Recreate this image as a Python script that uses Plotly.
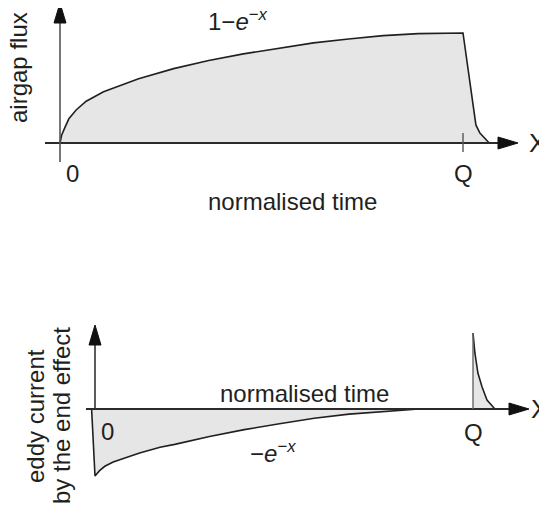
import plotly.graph_objects as go

# ---------------- data (normalised time, Q at t = 10) ----------------
flux_t = [0, 0.04, 0.12, 0.22, 0.40, 0.65, 1.08, 1.95, 2.82, 3.69, 4.55, 5.42,
          6.29, 7.16, 8.02, 8.89, 10.0, 10.32, 10.42, 10.65]
flux_v = [0, 0.07, 0.14, 0.22, 0.30, 0.38, 0.465, 0.585, 0.676, 0.75, 0.81, 0.86,
          0.91, 0.946, 0.976, 0.994, 1.0, 0.164, 0.09, 0]

eddy_t = [-0.09, 0, 0.12, 0.26, 0.48, 0.72, 1.18, 1.72, 2.11, 3.03, 3.95, 4.88,
          5.80, 6.72, 7.65, 8.38, 8.57, 10.0]
eddy_v = [0, -1, -0.92, -0.855, -0.79, -0.746, -0.656, -0.57, -0.528, -0.41,
          -0.308, -0.221, -0.138, -0.077, -0.036, -0.01, 0, 0]

spike_t = [10.0, 10.05, 10.13, 10.24, 10.37, 10.58]
spike_v = [1.134, 0.836, 0.537, 0.328, 0.134, 0]

tick_labels = ["0", "Q"]
tick_pos = [0, 10]

# ---------------- layout geometry (reference pixels) ----------------
W, H = 547, 508
OFF = 8                      # page body margin of the browser
FW, FH = W - OFF, H - OFF    # figure size so that it ends at the window edge
INK = "#231f20"
AX = "#2a2a2a"
FILL = "#e6e6e6"
FONT = "Liberation Sans, Arial, Helvetica, sans-serif"

# top panel: t=0 at px 60, t=10 at px 463, baseline px 143, 1 unit = 110 px
T = dict(x0=60, sx=40.3, y0=143, sy=110, top=OFF, bot=260)
# bottom panel: t=0 at px 95, t=10 at px 473, baseline px 409, 1 unit = 67 px
B = dict(x0=95, sx=37.8, y0=409, sy=67, top=260, bot=H)


def dx(p, px):
    return (px - p["x0"]) / p["sx"]


def dy(p, py):
    return (p["y0"] - py) / p["sy"]


fig = go.Figure()

fig.add_trace(go.Scatter(x=flux_t, y=flux_v, mode="lines", fill="tozeroy",
                         fillcolor=FILL, line=dict(color=INK, width=1.6),
                         xaxis="x", yaxis="y", hoverinfo="skip"))
fig.add_trace(go.Scatter(x=eddy_t, y=eddy_v, mode="lines", fill="tozeroy",
                         fillcolor=FILL, line=dict(color=INK, width=1.6),
                         xaxis="x2", yaxis="y2", hoverinfo="skip"))
fig.add_trace(go.Scatter(x=spike_t, y=spike_v, mode="lines", fill="tozeroy",
                         fillcolor=FILL, line=dict(color=INK, width=1.6),
                         xaxis="x2", yaxis="y2", hoverinfo="skip"))

shapes = []


def line(p, xr, yr, x0, y0, x1, y1, color=AX, width=2):
    shapes.append(dict(type="line", xref=xr, yref=yr,
                       x0=dx(p, x0), y0=dy(p, y0), x1=dx(p, x1), y1=dy(p, y1),
                       line=dict(color=color, width=width)))


def tri(p, xr, yr, pts):
    path = "M" + " L".join(f"{dx(p, a)},{dy(p, b)}" for a, b in pts) + " Z"
    shapes.append(dict(type="path", xref=xr, yref=yr, path=path,
                       fillcolor="#111", line=dict(color="#111", width=1)))


# top axes
line(T, "x", "y", 45, 143, 500, 143)
line(T, "x", "y", 60, 162, 60, 20, color="#555", width=1.6)
tri(T, "x", "y", [(518, 143), (498, 137), (498, 149)])
tri(T, "x", "y", [(60, 3), (54, 23), (66, 23)])
line(T, "x", "y", 463, 133, 463, 152, color="#555", width=1.4)

# bottom axes
line(B, "x2", "y2", 86, 409, 512, 409)
line(B, "x2", "y2", 95, 409, 95, 343, color="#333", width=1.6)
tri(B, "x2", "y2", [(529, 409), (509, 403), (509, 415)])
tri(B, "x2", "y2", [(95, 325), (89, 345), (101, 345)])
line(B, "x2", "y2", 473, 409, 473, 333, color="#666", width=1.4)

ann = []


def text(px, py, s, size=24, angle=0, xanchor="center"):
    ann.append(dict(x=(px - OFF) / FW, y=1 - (py - OFF) / FH,
                    xref="paper", yref="paper",
                    text=s, showarrow=False, textangle=angle,
                    xanchor=xanchor, yanchor="middle",
                    font=dict(family=FONT, size=size, color=INK)))


# top panel text
text(238, 20, "1\u2212<i>e</i><sup>\u2212<i>x</i></sup>")
text(T["x0"] + tick_pos[0] * T["sx"] + 12, 173, tick_labels[0])
text(T["x0"] + tick_pos[1] * T["sx"], 173, tick_labels[1])
text(292, 201, "normalised time")
text(18, 68, "airgap flux", angle=-90)
text(537, 143, "X", size=26)

# bottom panel text
text(B["x0"] + tick_pos[0] * B["sx"] + 12, 431, tick_labels[0])
text(B["x0"] + tick_pos[1] * B["sx"], 432, tick_labels[1])
text(305, 393, "normalised time")
text(273, 452, "\u2212<i>e</i><sup>\u2212<i>x</i></sup>")
text(35, 416, "eddy current", angle=-90)
text(61, 415, "by the end effect", angle=-90)
text(539, 409, "X", size=26)

fig.update_layout(
    width=FW, height=FH, margin=dict(l=0, r=0, t=0, b=0),
    paper_bgcolor="white", plot_bgcolor="white", showlegend=False,
    shapes=shapes, annotations=ann,
    xaxis=dict(domain=[0, 1], range=[dx(T, OFF), dx(T, W)], visible=False,
               fixedrange=True),
    yaxis=dict(domain=[1 - (T["bot"] - OFF) / FH, 1],
               range=[dy(T, T["bot"]), dy(T, OFF)],
               visible=False, fixedrange=True),
    xaxis2=dict(domain=[0, 1], range=[dx(B, OFF), dx(B, W)], visible=False,
                fixedrange=True),
    yaxis2=dict(domain=[0, 1 - (B["top"] - OFF) / FH],
                range=[dy(B, H), dy(B, B["top"])],
                visible=False, fixedrange=True),
)

fig.write_html("out.html")
